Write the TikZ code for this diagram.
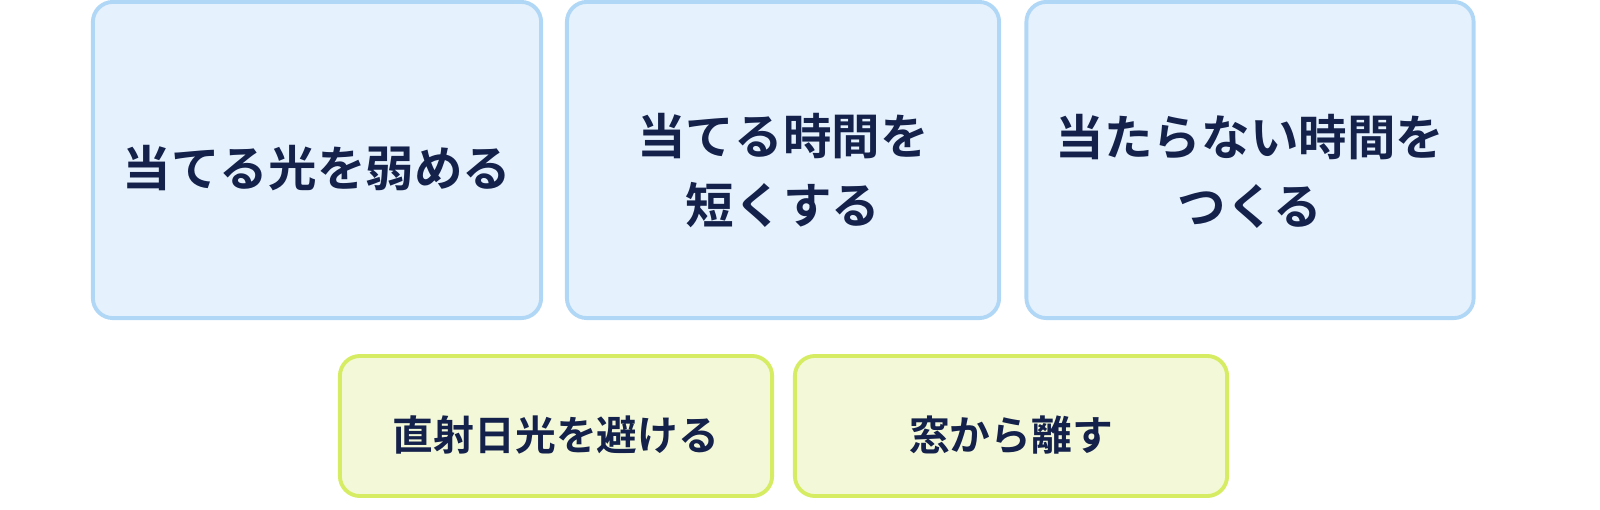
\documentclass[tikz,border=0pt]{standalone}
\usepackage{fontspec}
\newfontfamily\cjk{Noto Sans CJK JP}[BoldFont={Noto Sans CJK JP Bold}]
\usepackage{tikz}
\definecolor{bluefill}{HTML}{E5F1FC}
\definecolor{blueline}{HTML}{B1D7F6}
\definecolor{greenfill}{HTML}{F3F9D8}
\definecolor{greenline}{HTML}{D6EC62}
\definecolor{navy}{HTML}{14214A}

\begin{document}
\begin{tikzpicture}[x=0.01cm,y=-0.01cm,
     box/.style={line width=1.1pt, rounded corners=2mm},
     topbox/.style={box, draw=blueline, fill=bluefill, minimum height=3.16cm},
     lowbox/.style={box, draw=greenline, fill=greenfill, minimum width=4.32cm, minimum height=1.4cm},
     toptext/.style={align=center, text=navy, inner sep=0pt, font=\cjk\bfseries\fontsize{13.8}{19.6}\selectfont},
     lowtext/.style={align=center, text=navy, inner sep=0pt, font=\cjk\bfseries\fontsize{11.6}{14}\selectfont}]
    \useasboundingbox (0,0) rectangle (1600,509);
    \node[topbox, minimum width=4.48cm] (weak) at (317, 160) {};
    \node[topbox, minimum width=4.32cm] (short) at (783, 160) {};
    \node[topbox, minimum width=4.47cm] (dark) at (1250, 160) {};
    \node[lowbox] (sun) at (556, 426) {};
    \node[lowbox] (window) at (1011, 426) {};
    % labels
    \node[toptext] (weak label) at (317, 168) {当てる光を弱める};
    \node[toptext] (short label) at (783, 171) {当てる時間を\\短くする};
    \node[toptext] (dark label) at (1250, 171) {当たらない時間を\\つくる};
    \node[lowtext] (sun label) at (556, 435) {直射日光を避ける};
    \node[lowtext] (window label) at (1011, 435) {窓から離す};
\end{tikzpicture}
\end{document}
